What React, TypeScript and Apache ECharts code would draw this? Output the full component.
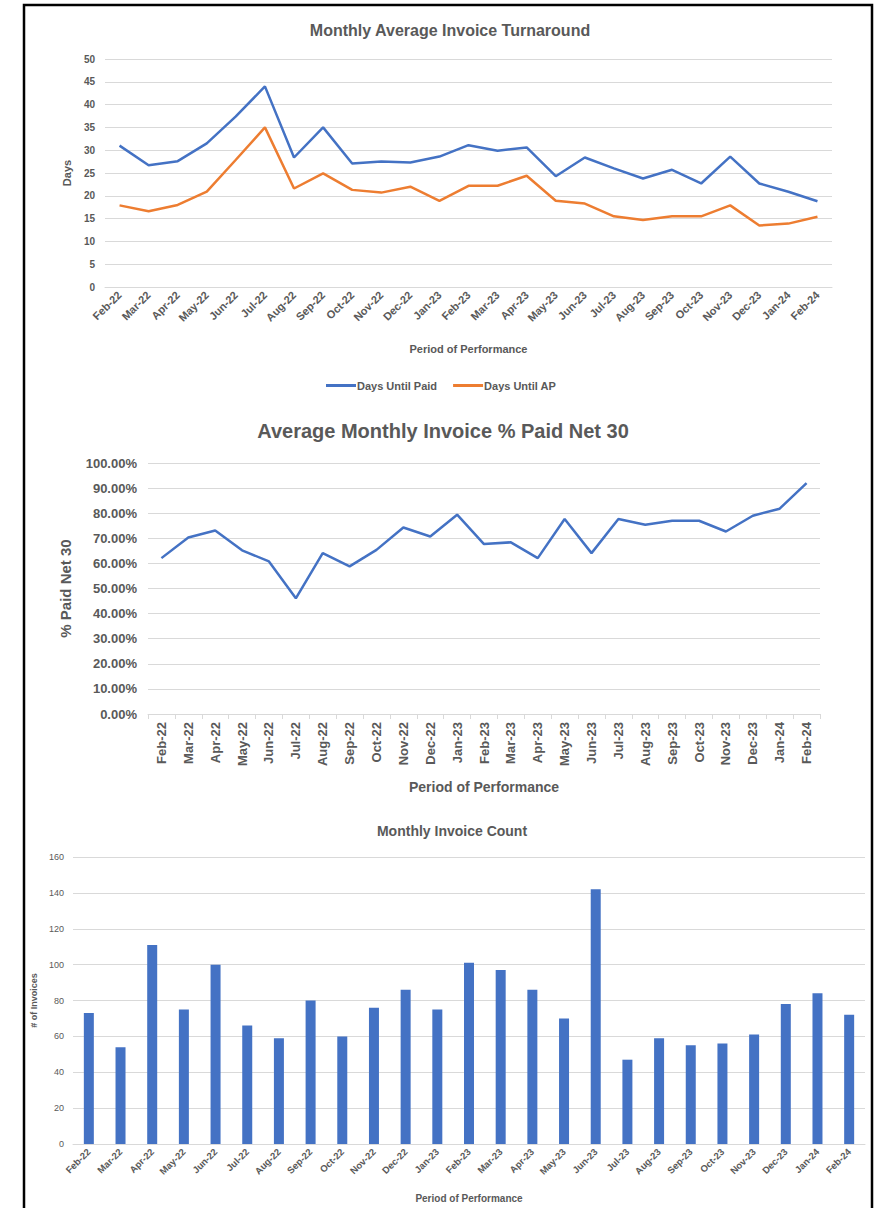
import React, { useEffect, useRef } from "react";
import * as echarts from "echarts";

const months = [
  "Feb-22", "Mar-22", "Apr-22", "May-22", "Jun-22", "Jul-22", "Aug-22", "Sep-22", "Oct-22", "Nov-22", "Dec-22", "Jan-23",
  "Feb-23", "Mar-23", "Apr-23", "May-23", "Jun-23", "Jul-23", "Aug-23", "Sep-23", "Oct-23", "Nov-23", "Dec-23", "Jan-24", "Feb-24",
];

const daysUntilPaid = [31, 26.7, 27.6, 31.5, 37.4, 44, 28.4, 35, 27.1, 27.5, 27.3, 28.6, 31.1, 29.9, 30.6, 24.3, 28.4, 26, 23.8, 25.7, 22.7, 28.6, 22.7, 20.9, 18.8];
const daysUntilAP = [17.9, 16.6, 18, 20.9, 27.9, 35, 21.6, 24.9, 21.3, 20.7, 22, 18.9, 22.2, 22.2, 24.4, 18.9, 18.3, 15.5, 14.7, 15.5, 15.5, 17.9, 13.5, 13.9, 15.4];
const pctPaidNet30 = [62.1, 70.3, 73.1, 65.2, 60.8, 46.1, 64.1, 58.8, 65.4, 74.3, 70.7, 79.4, 67.7, 68.4, 62.1, 77.7, 64.1, 77.7, 75.4, 77, 77, 72.7, 79, 81.8, 92];
const invoiceCount = [73, 54, 111, 75, 100, 66, 59, 80, 60, 76, 86, 75, 101, 97, 86, 70, 142, 47, 59, 55, 56, 61, 78, 84, 72];

const TEXT = "#595959";
const GRID = "#D9D9D9";
const BLUE = "#4472C4";
const ORANGE = "#ED7D31";
const FONT = "'Liberation Sans', Arial, sans-serif";

export default function App() {
  const ref = useRef<HTMLDivElement>(null);
  useEffect(() => {
    if (!ref.current) return;
    const chart = echarts.init(ref.current, undefined, { renderer: "svg" });
    const catAxis = (gridIndex: number, extra: any) => ({
      type: "category",
      gridIndex,
      data: months,
      boundaryGap: true,
      nameLocation: "middle",
      axisLine: { show: true, lineStyle: { color: GRID, width: 1 } },
      axisTick: { show: false },
      ...extra,
    });
    const option: any = {
      animation: false,
      backgroundColor: "#ffffff",
      textStyle: { fontFamily: FONT },
      title: [
        { text: "Monthly Average Invoice Turnaround", left: 445, top: 17, textAlign: "center",
          textStyle: { fontSize: 16, fontWeight: "bold", color: TEXT, fontFamily: FONT } },
        { text: "Average Monthly Invoice % Paid Net 30", left: 438, top: 416, textAlign: "center",
          textStyle: { fontSize: 20, fontWeight: "bold", color: TEXT, fontFamily: FONT } },
        { text: "Monthly Invoice Count", left: 447, top: 819, textAlign: "center",
          textStyle: { fontSize: 14, fontWeight: "bold", color: TEXT, fontFamily: FONT } },
      ],
      legend: {
        left: 321, top: 375, icon: "rect", itemWidth: 30, itemHeight: 3, itemGap: 16,
        data: ["Days Until Paid", "Days Until AP"],
        textStyle: { fontSize: 11, fontWeight: "bold", color: TEXT, fontFamily: FONT, padding: [0, 0, 0, -4] },
      },
      grid: [
        { left: 105, top: 59, width: 727, height: 228 },
        { left: 148, top: 463, width: 672, height: 251 },
        { left: 73, top: 857, width: 792, height: 287 },
      ],
      xAxis: [
        catAxis(0, {
          name: "Period of Performance", nameGap: 56,
          nameTextStyle: { fontSize: 11, fontWeight: "bold", color: TEXT },
          axisLabel: { rotate: 45, fontSize: 11, fontWeight: "bold", color: TEXT, interval: 0, margin: 6 },
        }),
        catAxis(1, {
          name: "Period of Performance", nameGap: 66,
          nameTextStyle: { fontSize: 14, fontWeight: "bold", color: TEXT },
          axisTick: { show: true, length: 5, lineStyle: { color: GRID } },
          axisLabel: { rotate: 90, fontSize: 13, fontWeight: "bold", color: TEXT, interval: 0, margin: 8 },
        }),
        catAxis(2, {
          name: "Period of Performance", nameGap: 49,
          nameTextStyle: { fontSize: 10, fontWeight: "bold", color: TEXT },
          axisLabel: { rotate: 45, fontSize: 9.5, fontWeight: "bold", color: TEXT, interval: 0, margin: 6 },
        }),
      ],
      yAxis: [
        {
          type: "value", gridIndex: 0, min: 0, max: 50, interval: 5,
          name: "Days", nameLocation: "middle", nameGap: 33,
          nameTextStyle: { fontSize: 11, fontWeight: "bold", color: TEXT },
          axisLine: { show: false }, axisTick: { show: false },
          axisLabel: { fontSize: 10, fontWeight: "bold", color: TEXT, margin: 10 },
          splitLine: { lineStyle: { color: GRID, width: 1 } },
        },
        {
          type: "value", gridIndex: 1, min: 0, max: 100, interval: 10,
          name: "% Paid Net 30", nameLocation: "middle", nameGap: 75,
          nameTextStyle: { fontSize: 15, fontWeight: "bold", color: TEXT },
          axisLine: { show: false }, axisTick: { show: false },
          axisLabel: { fontSize: 13, fontWeight: "bold", color: TEXT, margin: 11,
            formatter: (v: number) => v.toFixed(2) + "%" },
          splitLine: { lineStyle: { color: GRID, width: 1 } },
        },
        {
          type: "value", gridIndex: 2, min: 0, max: 160, interval: 20,
          name: "# of Invoices", nameLocation: "middle", nameGap: 34,
          nameTextStyle: { fontSize: 9, fontWeight: "bold", color: TEXT },
          axisLine: { show: false }, axisTick: { show: false },
          axisLabel: { fontSize: 9, color: TEXT, margin: 9 },
          splitLine: { lineStyle: { color: GRID, width: 1 } },
        },
      ],
      series: [
        { name: "Days Until Paid", type: "line", xAxisIndex: 0, yAxisIndex: 0, data: daysUntilPaid,
          showSymbol: false, lineStyle: { color: BLUE, width: 2.5 }, itemStyle: { color: BLUE } },
        { name: "Days Until AP", type: "line", xAxisIndex: 0, yAxisIndex: 0, data: daysUntilAP,
          showSymbol: false, lineStyle: { color: ORANGE, width: 2.5 }, itemStyle: { color: ORANGE } },
        { name: "% Paid Net 30", type: "line", xAxisIndex: 1, yAxisIndex: 1, data: pctPaidNet30,
          showSymbol: false, lineStyle: { color: BLUE, width: 2.5 }, itemStyle: { color: BLUE } },
        { name: "# of Invoices", type: "bar", xAxisIndex: 2, yAxisIndex: 2, data: invoiceCount,
          barWidth: 10, itemStyle: { color: BLUE } },
      ],
      graphic: [
        { type: "rect", shape: { x: 24, y: 5, width: 848, height: 1212 },
          style: { fill: "none", stroke: "#000000", lineWidth: 2.5 }, silent: true, z: 100 },
      ],
    };
    chart.setOption(option);
    return () => chart.dispose();
  }, []);
  return (
    <div ref={ref} style={{ position: "absolute", left: 0, top: 0, width: 879, height: 1208, background: "#fff" }} />
  );
}
